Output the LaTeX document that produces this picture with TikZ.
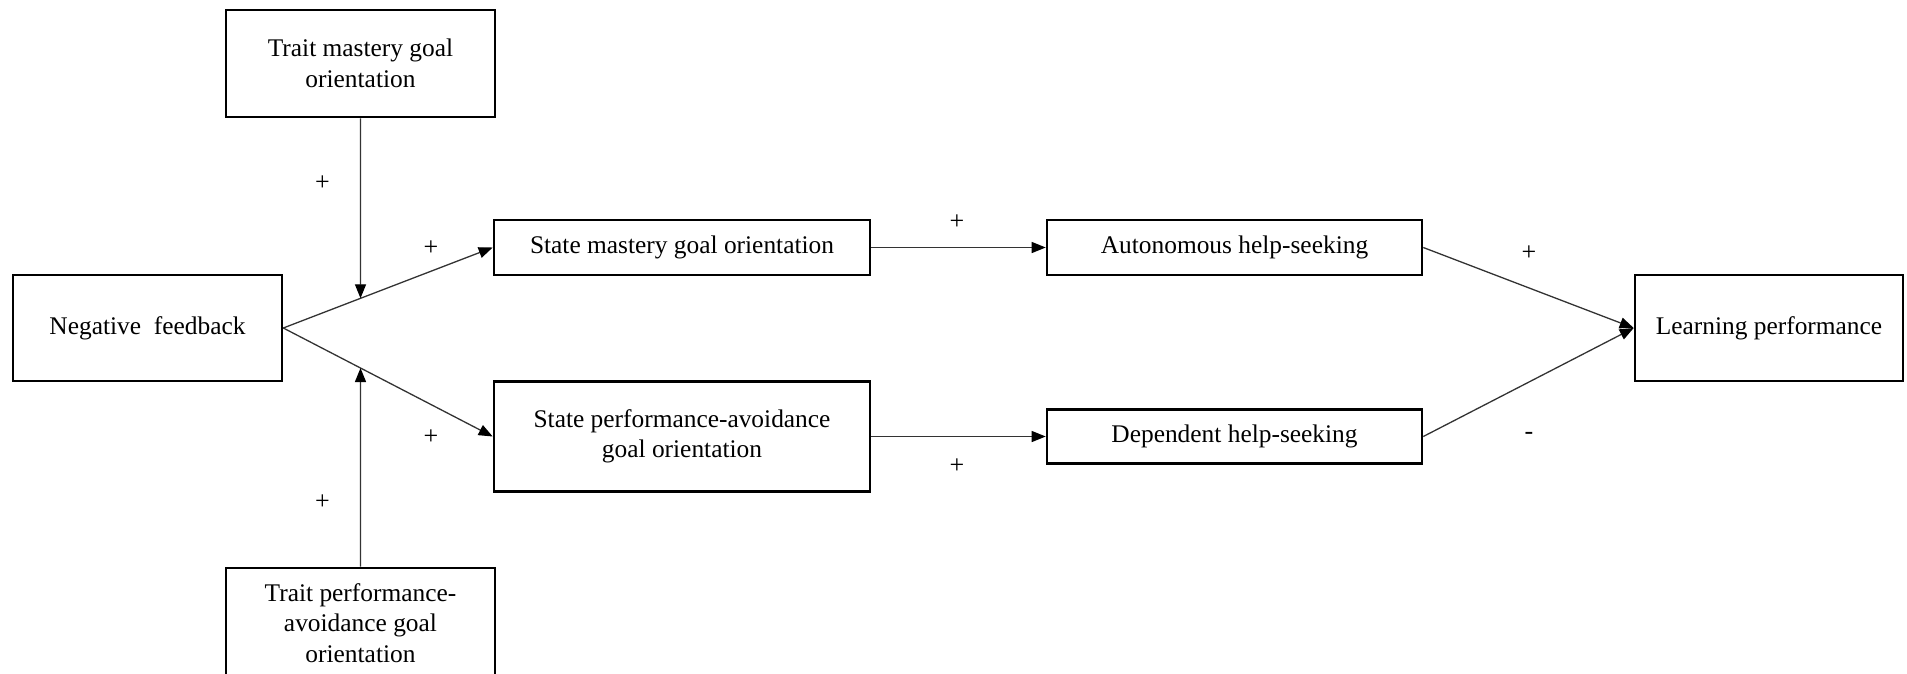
\documentclass[tikz,border=0pt]{standalone}
\usepackage{fontspec}
\setmainfont{Liberation Serif}
\usetikzlibrary{arrows.meta,intersections}
\begin{document}
\begin{tikzpicture}[x=1pt,y=1pt,
  box/.style={draw=black, line width=2.6pt, rectangle, align=center, inner sep=0pt,
    font=\fontsize{25.4}{30.5}\selectfont},
  conn/.style={draw=black!80, line width=1.3pt, -{Triangle[length=14pt,width=11pt,color=black]}},
  sign/.style={font=\fontsize{26}{30.5}\selectfont, inner sep=0pt}]
\useasboundingbox (0,0) rectangle (1907,-673);
\node[box, minimum width=269, minimum height=107] (tm) at (360.5,-63.5) {Trait mastery goal\\orientation};
\node[box, minimum width=269, minimum height=106] (nf) at (147.5,-328) {Negative\ \ feedback};
\node[box, minimum width=376, minimum height=55] (sm) at (682,-247.5) {State mastery goal orientation};
\node[box, minimum width=375, minimum height=55] (ah) at (1234.5,-247.5) {Autonomous help-seeking};
\node[box, minimum width=376, minimum height=110] (sp) at (682,-436.5) {State performance-avoidance\\goal orientation};
\node[box, minimum width=375, minimum height=54] (dh) at (1234.5,-436.5) {Dependent help-seeking};
\node[box, minimum width=268, minimum height=106] (lp) at (1769,-328) {Learning performance};
\node[box, minimum width=269, minimum height=110] (tp) at (360.5,-623) {Trait performance-\\avoidance goal\\orientation};

\draw[conn, name path=up] (nf.east) -- (sm.west);
\draw[conn, name path=down] (nf.east) -- (sp.west);
\draw[conn] (sm.east) -- (ah.west);
\draw[conn] (sp.east) -- (dh.west);
\draw[conn] (ah.east) -- (lp.west);
\draw[conn] (dh.east) -- (lp.west);

\path[name path=v1] (tm.south) -- ++(0,-400);
\path[name path=v2] (tp.north) -- ++(0,400);
\path[name intersections={of=up and v1, by=m1}];
\path[name intersections={of=down and v2, by=m2}];
\coordinate (m1c) at (m1);
\coordinate (m2c) at (m2);
\draw[conn] (tm.south) -- (m1c);
\draw[conn] (tp.north) -- (m2c);

\node[sign] (s1) at (322.5,-183) {+};
\node[sign] (s2) at (322.5,-502) {+};
\node[sign] (s3) at (431,-248) {+};
\node[sign] (s4) at (431,-437) {+};
\node[sign] (s5) at (957,-222) {+};
\node[sign] (s6) at (957,-466) {+};
\node[sign] (s7) at (1529,-253) {+};
\node[sign] (s8) at (1529,-436) {-};
\end{tikzpicture}
\end{document}
